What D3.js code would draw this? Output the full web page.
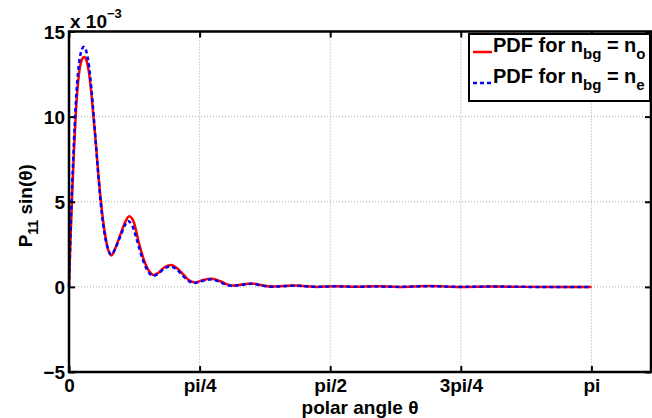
<!DOCTYPE html>
<html>
<head>
<meta charset="utf-8">
<script src="https://cdn.jsdelivr.net/npm/d3@7/dist/d3.min.js"></script>
<style>
  html, body { margin: 0; padding: 0; background: #fff; }
  svg { display: block; font-family: "Liberation Sans", Arial, Helvetica, sans-serif; font-weight: bold; }
</style>
</head>
<body>
<svg id="chart" width="652" height="418"></svg>
<script>
// ---- data (values in units of 1e-3) ----
const redTheta = [0, 0.01, 0.02, 0.03, 0.04, 0.05, 0.06, 0.07, 0.08, 0.093, 0.105, 0.12, 0.135, 0.147, 0.16, 0.175, 0.19, 0.205, 0.22, 0.235, 0.256, 0.28, 0.31, 0.335, 0.362, 0.39, 0.42, 0.45, 0.48, 0.51, 0.54, 0.57, 0.613, 0.65, 0.69, 0.72, 0.757, 0.80, 0.857, 0.91, 0.95, 0.985, 1.04, 1.097, 1.16, 1.217, 1.29, 1.367, 1.43, 1.49, 1.6, 1.72, 1.85, 1.98, 2.17, 2.35, 2.55, 2.75, 2.95, 3.1416];
const redValues = [0, 3.1, 5.7, 8.0, 10.0, 11.5, 12.5, 13.1, 13.4, 13.5, 13.3, 12.6, 11.3, 10.0, 8.6, 6.8, 5.2, 3.9, 2.9, 2.2, 1.85, 2.3, 3.1, 3.75, 4.15, 3.8, 2.6, 1.6, 0.95, 0.70, 0.85, 1.12, 1.29, 1.1, 0.7, 0.4, 0.26, 0.38, 0.47, 0.33, 0.15, 0.08, 0.14, 0.2, 0.1, 0.02, 0.05, 0.08, 0.04, 0.0, 0.03, 0.01, 0.03, 0.0, 0.05, 0.0, 0.02, 0.0, -0.01, 0.0];

const blueTheta = [0, 0.01, 0.02, 0.03, 0.04, 0.05, 0.06, 0.07, 0.08, 0.09, 0.105, 0.12, 0.135, 0.147, 0.16, 0.175, 0.19, 0.205, 0.22, 0.235, 0.255, 0.28, 0.31, 0.335, 0.355, 0.38, 0.41, 0.44, 0.47, 0.505, 0.54, 0.57, 0.605, 0.645, 0.685, 0.72, 0.75, 0.795, 0.85, 0.905, 0.945, 0.98, 1.04, 1.095, 1.16, 1.215, 1.29, 1.365, 1.43, 1.49, 1.6, 1.72, 1.85, 1.98, 2.17, 2.35, 2.55, 2.75, 2.95, 3.1416];
const blueValues = [0, 3.4, 6.2, 8.6, 10.6, 12.1, 13.1, 13.7, 14.0, 14.1, 13.8, 13.0, 11.6, 10.2, 8.6, 6.7, 5.0, 3.7, 2.8, 2.2, 1.9, 2.3, 3.0, 3.6, 3.87, 3.6, 2.7, 1.7, 1.0, 0.65, 0.8, 1.05, 1.2, 1.05, 0.65, 0.35, 0.22, 0.33, 0.44, 0.3, 0.12, 0.06, 0.12, 0.18, 0.08, 0.01, 0.04, 0.07, 0.03, 0.0, 0.03, 0.01, 0.02, 0.0, 0.04, 0.0, 0.02, 0.0, -0.01, 0.0];

const xTickValues = [0, Math.PI / 4, Math.PI / 2, 3 * Math.PI / 4, Math.PI];
const xTickLabels = ["0", "pi/4", "pi/2", "3pi/4", "pi"];
const yTickValues = [-5, 0, 5, 10, 15];
const yTickLabels = ["\u22125", "0", "5", "10", "15"];
const seriesNames = ["PDF for n", "PDF for n"];
const seriesSubs = [["bg", "o"], ["bg", "e"]];

// ---- layout ----
const svg = d3.select("#chart");
const L = 69, R = 651, T = 31.5, B = 372;
const x = d3.scaleLinear().domain([0, 3.5]).range([L, R]);
const y = d3.scaleLinear().domain([-5, 15]).range([B, T]);

// grid
const grid = svg.append("g").attr("stroke", "#aaa").attr("stroke-width", 1).attr("stroke-dasharray", "1,2");
xTickValues.slice(1).forEach(v => {
  grid.append("line").attr("x1", x(v)).attr("x2", x(v)).attr("y1", T).attr("y2", B);
});
[0, 5, 10].forEach(v => {
  grid.append("line").attr("x1", L).attr("x2", R).attr("y1", y(v)).attr("y2", y(v));
});

// lines
const line = d3.line().x(d => x(d[0])).y(d => y(d[1])).curve(d3.curveMonotoneX);
const redData = redTheta.map((t, i) => [t, redValues[i]]);
const blueData = blueTheta.map((t, i) => [t, blueValues[i]]);
svg.append("path").datum(redData).attr("d", line).attr("fill", "none").attr("stroke", "#ff0000").attr("stroke-width", 2.5);
svg.append("path").datum(blueData).attr("d", line).attr("fill", "none").attr("stroke", "#0000ff").attr("stroke-width", 2.5).attr("stroke-dasharray", "4,3");

// axes (box with inward ticks)
const tickLen = 6;
const xAxisB = d3.axisBottom(x).tickValues(xTickValues).tickFormat((d, i) => xTickLabels[i]).tickSizeInner(-tickLen).tickSizeOuter(0).tickPadding(7);
const gx = svg.append("g").attr("transform", `translate(0,${B})`).call(xAxisB);
const xAxisT = d3.axisTop(x).tickValues(xTickValues).tickFormat("").tickSizeInner(-tickLen).tickSizeOuter(0);
const gxt = svg.append("g").attr("transform", `translate(0,${T})`).call(xAxisT);
const yAxisL = d3.axisLeft(y).tickValues(yTickValues).tickFormat((d, i) => yTickLabels[i]).tickSizeInner(-tickLen).tickSizeOuter(0).tickPadding(4);
const gy = svg.append("g").attr("transform", `translate(${L},0)`).call(yAxisL);
const yAxisR = d3.axisRight(y).tickValues(yTickValues).tickFormat("").tickSizeInner(-tickLen).tickSizeOuter(0);
const gyr = svg.append("g").attr("transform", `translate(${R},0)`).call(yAxisR);
[gx, gxt, gy, gyr].forEach(g => {
  g.select(".domain").remove();
  g.selectAll(".tick line").attr("stroke", "#000").attr("stroke-width", 2);
  g.selectAll("text").attr("font-size", 19).attr("font-weight", "bold").attr("font-family", "Liberation Sans, Arial, sans-serif").attr("fill", "#000");
});
gy.selectAll("text").attr("dy", "0.36em");

// frame
svg.append("rect").attr("x", L).attr("y", T).attr("width", R - L).attr("height", B - T)
  .attr("fill", "none").attr("stroke", "#000").attr("stroke-width", 2.5);

// exponent label
const ex = svg.append("text").attr("x", 70).attr("y", 27.5).attr("font-size", 19);
ex.append("tspan").text("x 10");
ex.append("tspan").attr("font-size", 13).attr("dy", -10).text("\u22123");

// axis labels
svg.append("text").attr("x", (L + R) / 2).attr("y", 414).attr("text-anchor", "middle").attr("font-size", 19).text("polar angle \u03b8");
const yl = svg.append("text").attr("transform", `translate(32,${(T + B) / 2 + 4}) rotate(-90)`).attr("text-anchor", "middle").attr("font-size", 19);
yl.append("tspan").text("P");
yl.append("tspan").attr("font-size", 14).attr("dy", 6).text("11");
yl.append("tspan").attr("dy", -6).text(" sin(\u03b8)");

// legend
const lg = svg.append("g");
lg.append("rect").attr("x", 469).attr("y", 34).attr("width", 181).attr("height", 67).attr("fill", "#fff").attr("stroke", "#000").attr("stroke-width", 2);
const rowsY = [52, 83];
const colors = ["#ff0000", "#0000ff"];
const dashes = [null, "4,3"];
rowsY.forEach((ry, i) => {
  lg.append("line").attr("x1", 473).attr("x2", 492).attr("y1", ry).attr("y2", ry)
    .attr("stroke", colors[i]).attr("stroke-width", 2.5).attr("stroke-dasharray", dashes[i]);
  const t = lg.append("text").attr("x", 493).attr("y", ry).attr("font-size", 20);
  t.append("tspan").text(seriesNames[i]);
  t.append("tspan").attr("font-size", 15).attr("dy", 7).text(seriesSubs[i][0]);
  t.append("tspan").attr("dy", -7).text(" = n");
  t.append("tspan").attr("font-size", 15).attr("dy", 7).text(seriesSubs[i][1]);
});
</script>
</body>
</html>
